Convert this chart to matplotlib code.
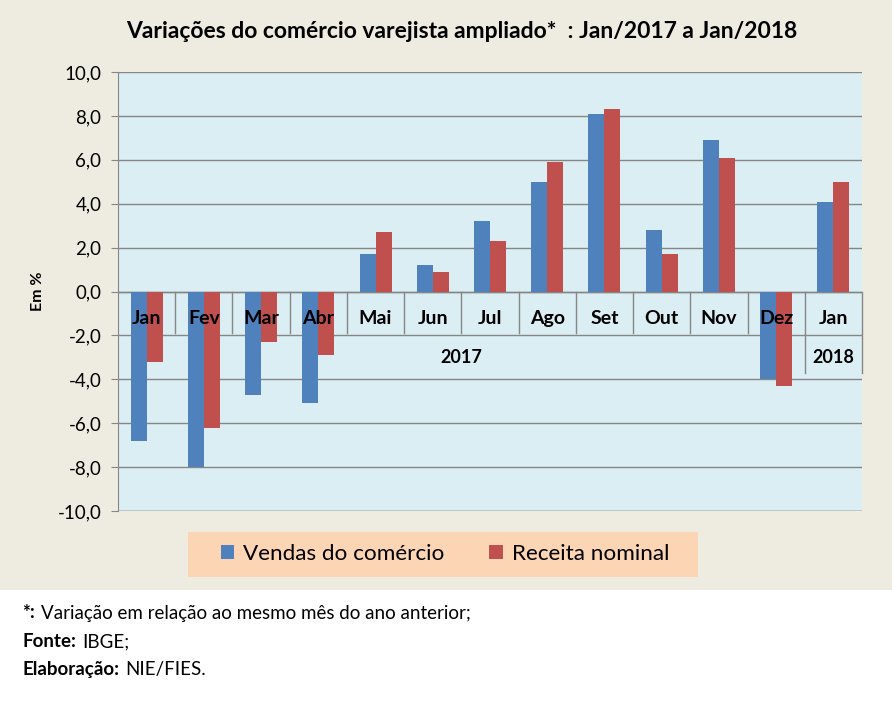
import matplotlib
matplotlib.use("Agg")
import matplotlib.pyplot as plt
from matplotlib.patches import Patch, Rectangle

plt.rcParams['font.family'] = ['Lato', 'DejaVu Sans']

months = ["Jan", "Fev", "Mar", "Abr", "Mai", "Jun", "Jul",
          "Ago", "Set", "Out", "Nov", "Dez", "Jan"]
years = ["2017", "2018"]
year_spans = [(0, 11), (12, 12)]
vendas = [-6.8, -8.0, -4.7, -5.1, 1.7, 1.2, 3.2, 5.0, 8.1, 2.8, 6.9, -4.0, 4.1]
receita = [-3.2, -6.2, -2.3, -2.9, 2.7, 0.9, 2.3, 5.9, 8.3, 1.7, 6.1, -4.3, 5.0]
yticks = [-10, -8, -6, -4, -2, 0, 2, 4, 6, 8, 10]
notes = [("*:", "Variação em relação ao mesmo mês do ano anterior;"),
         ("Fonte:", "IBGE;"),
         ("Elaboração:", "NIE/FIES.")]

BLUE = "#4F81BD"
RED = "#C0504D"
W, H = 892, 720

fig = plt.figure(figsize=(W / 100, H / 100), dpi=100, facecolor="#EEECE1")
# white footer band
fig.patches.append(Rectangle((0, 0), 1, 130 / H, transform=fig.transFigure,
                             facecolor="white", edgecolor="none", zorder=0))

ax = fig.add_axes([118 / W, 1 - 511 / H, 744 / W, 439 / H])
ax.set_facecolor("#DAEEF3")

x = list(range(len(months)))
bw = 0.28
ax.bar([i - bw / 2 for i in x], vendas, bw, color=BLUE, zorder=3)
ax.bar([i + bw / 2 for i in x], receita, bw, color=RED, zorder=3)

ax.set_xlim(-0.5, len(months) - 0.5)
ax.set_ylim(-10, 10)
ax.set_yticks(yticks)
ax.set_yticklabels([f"{v:.1f}".replace(".", ",") for v in yticks],
                   fontsize=13.5)
ax.tick_params(axis="y", length=5, color="#868686", pad=7)
ax.set_xticks([])
ax.grid(axis="y", color="#868686", linewidth=1, zorder=1)
for s in ["top", "right", "bottom"]:
    ax.spines[s].set_visible(False)
ax.spines["left"].set_color("#868686")
ax.axhline(-10, color="#868686", linewidth=1, zorder=1)

# multi-level category axis drawn inside the plot
ax.axhline(0, color="#868686", linewidth=1, zorder=2)
for i, m in enumerate(months):
    ax.text(i, -1.25, m, ha="center", va="center", fontsize=14,
            fontweight="bold", zorder=5)
    if 0 < i < 12:
        ax.plot([i - 0.5, i - 0.5], [0, -1.9], color="#868686", lw=1, zorder=2)
for (a, b), yr in zip(year_spans, years):
    ax.text((a + b) / 2, -3.0, yr, ha="center", va="center", fontsize=13,
            fontweight="bold", zorder=5)
ax.plot([11.5, 11.5], [0, -3.7], color="#868686", lw=1, zorder=2)
ax.plot([12.5, 12.5], [0, -3.7], color="#868686", lw=1, zorder=2, clip_on=False)

fig.text(38 / W, 1 - 291 / H, "Em %", rotation=90, ha="center", va="center",
         fontsize=11.5, fontweight="bold")

fig.text(462 / W, 1 - 31 / H,
         "Variações do comércio varejista ampliado*  : Jan/2017 a Jan/2018",
         ha="center", va="center", fontsize=16.5, fontweight="bold")

# legend box
fig.patches.append(Rectangle((188 / W, 1 - 577 / H), 510 / W, 45 / H,
                             transform=fig.transFigure, facecolor="#FCD5B5",
                             edgecolor="none", zorder=1))
handles = [Patch(facecolor=BLUE, label="Vendas do comércio"),
           Patch(facecolor=RED, label="Receita nominal")]
fig.legend(handles=handles, loc="center", bbox_to_anchor=(445 / W, 1 - 554 / H),
           ncol=2, frameon=False, fontsize=16.2, handlelength=0.6,
           handleheight=0.6, handletextpad=0.4, columnspacing=2.0)

# footnotes: bold key followed by regular text
renderer = fig.canvas.get_renderer()
for k, (key, txt) in enumerate(notes):
    yy = 1 - (613 + 28.5 * k) / H
    t = fig.text(22 / W, yy, key, fontweight="bold", fontsize=13.5, va="center")
    bb = t.get_window_extent(renderer)
    fig.text((bb.x1 + 6) / W, yy, txt, fontsize=13.5, va="center")

fig.savefig("out.png", dpi=100, facecolor=fig.get_facecolor())
